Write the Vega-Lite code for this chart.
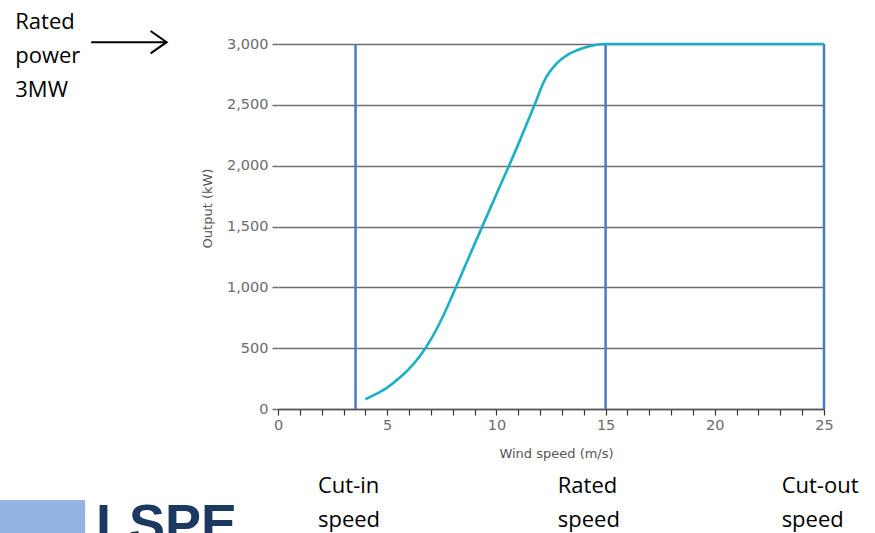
{
  "$schema": "https://vega.github.io/schema/vega-lite/v6.json",
  "width": 546,
  "height": 365,
  "autosize": {"type": "none"},
  "padding": {"left": 278, "top": 44, "right": 51, "bottom": 124},
  "background": "white",
  "config": {"view": {"stroke": null}},
  "datasets": {
    "curve": [
      {"speed": 4.0, "output": 80},
      {"speed": 4.5, "output": 124},
      {"speed": 5.0, "output": 176},
      {"speed": 5.5, "output": 246},
      {"speed": 6.0, "output": 330},
      {"speed": 6.5, "output": 436},
      {"speed": 7.0, "output": 572},
      {"speed": 7.5, "output": 742},
      {"speed": 8.0, "output": 940},
      {"speed": 9.0, "output": 1355},
      {"speed": 10.0, "output": 1765},
      {"speed": 11.0, "output": 2175},
      {"speed": 11.75, "output": 2500},
      {"speed": 12.2, "output": 2700},
      {"speed": 12.75, "output": 2838},
      {"speed": 13.35, "output": 2920},
      {"speed": 14.1, "output": 2974},
      {"speed": 15, "output": 3000},
      {"speed": 25, "output": 3000}
    ],
    "limits": [
      {"speed": 3.55, "output": 0, "top": 3000, "label": "Cut-in"},
      {"speed": 15, "output": 0, "top": 3000, "label": "Rated"},
      {"speed": 25, "output": 0, "top": 3000, "label": "Cut-out"}
    ],
    "notes": [
      {"speed": -12.03, "output": 3181, "text": "Rated\npower\n3MW"},
      {"speed": 1.83, "output": -631, "text": "Cut-in\nspeed"},
      {"speed": 12.81, "output": -631, "text": "Rated\nspeed"},
      {"speed": 23.06, "output": -631, "text": "Cut-out\nspeed"}
    ],
    "arrow": [
      {"speed": -8.55, "speed2": -5.1, "output": 3015}
    ],
    "logoBox": [
      {"speed": -12.8, "speed2": -8.83, "output": -747, "top": -1100}
    ],
    "logoText": [
      {"speed": -8.33, "output": -1092, "text": "LSPE"}
    ]
  },
  "encoding": {
    "x": {
      "field": "speed",
      "type": "quantitative",
      "scale": {"domain": [0, 25], "nice": false, "zero": false},
      "axis": {
        "title": "Wind speed (m/s)",
        "values": [0,1,2,3,4,5,6,7,8,9,10,11,12,13,14,15,16,17,18,19,20,21,22,23,24,25],
        "labelExpr": "datum.value % 5 === 0 ? datum.label : ''",
        "grid": false,
        "domain": true,
        "domainColor": "#555555",
        "domainWidth": 1.5,
        "ticks": true,
        "tickSize": 6,
        "tickColor": "#333333",
        "tickWidth": 1.2,
        "labelPadding": 3,
        "labelFont": "DejaVu Sans",
        "labelFontSize": 14.5,
        "labelColor": "#6b6b6b",
        "labelFlush": false,
        "titleFont": "DejaVu Sans",
        "titleFontSize": 13,
        "titleFontWeight": "normal",
        "titleColor": "#555555",
        "titleX": 278,
        "titleY": 44,
        "titleBaseline": "middle"
      }
    },
    "y": {
      "field": "output",
      "type": "quantitative",
      "scale": {"domain": [0, 3000], "nice": false},
      "axis": {
        "title": "Output (kW)",
        "values": [0, 500, 1000, 1500, 2000, 2500, 3000],
        "format": ",.0f",
        "grid": true,
        "gridColor": "#6e6e6e",
        "gridWidth": 1.5,
        "domain": false,
        "ticks": true,
        "tickSize": 6,
        "tickColor": "#6e6e6e",
        "tickWidth": 1.5,
        "labelPadding": 4,
        "labelFont": "DejaVu Sans",
        "labelFontSize": 14.5,
        "labelColor": "#6b6b6b",
        "titleFont": "DejaVu Sans",
        "titleFontSize": 13,
        "titleFontWeight": "normal",
        "titleColor": "#555555",
        "titleX": -71,
        "titleY": 164,
        "titleAngle": -90,
        "titleBaseline": "middle",
        "titleAlign": "center"
      }
    }
  },
  "layer": [
    {
      "data": {"name": "limits"},
      "mark": {"type": "rule", "color": "#4a7cc0", "strokeWidth": 2.5},
      "encoding": {"y2": {"field": "top"}}
    },
    {
      "data": {"name": "curve"},
      "mark": {"type": "line", "color": "#1aafc6", "strokeWidth": 2.6, "interpolate": "monotone"}
    },
    {
      "data": {"name": "notes"},
      "mark": {"type": "text", "font": "Open Sans", "fontSize": 22, "color": "#000000", "align": "left", "baseline": "middle", "lineBreak": "\n", "lineHeight": 34},
      "encoding": {"text": {"field": "text"}}
    },
    {
      "data": {"name": "arrow"},
      "mark": {"type": "rule", "color": "#000000", "strokeWidth": 2},
      "encoding": {"x2": {"field": "speed2"}}
    },
    {
      "data": {"name": "arrow"},
      "mark": {"type": "point", "shape": "M-1,-0.7L0,0L-1,0.7", "filled": false, "size": 1024, "color": "#000000", "strokeWidth": 2, "opacity": 1},
      "encoding": {"x": {"field": "speed2", "type": "quantitative"}}
    },
    {
      "data": {"name": "logoBox"},
      "mark": {"type": "rect", "color": "#93b3e2"},
      "encoding": {"x2": {"field": "speed2"}, "y2": {"field": "top"}}
    },
    {
      "data": {"name": "logoText"},
      "mark": {"type": "text", "font": "Liberation Sans", "fontWeight": "bold", "fontSize": 54, "color": "#1b3961", "align": "left", "baseline": "alphabetic"},
      "encoding": {"text": {"field": "text"}}
    }
  ]
}
